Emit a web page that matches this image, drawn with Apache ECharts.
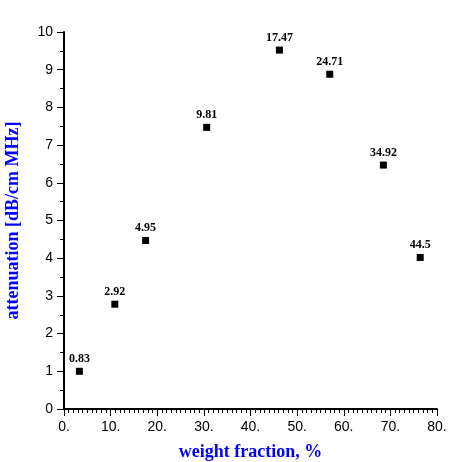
<!DOCTYPE html>
<html>
<head>
<meta charset="utf-8">
<script src="https://cdn.jsdelivr.net/npm/echarts@6/dist/echarts.min.js"></script>
<style>
    html, body { margin: 0; padding: 0; background: #fff; }
    #main { width: 467px; height: 462px; }
</style>
</head>
<body>
<div id="main"></div>
<script>
    // weight fraction (%) vs attenuation, label is the sample value
    let weightFraction = [3.3, 10.9, 17.5, 30.6, 46.2, 57.0, 68.5, 76.4];
    let attenuation = [1.0, 2.78, 4.47, 7.47, 9.52, 8.88, 6.47, 4.02];
    let pointLabels = ['0.83', '2.92', '4.95', '9.81', '17.47', '24.71', '34.92', '44.5'];

    let chart = echarts.init(document.getElementById('main'));

    let points = [];
    for (let i = 0; i < weightFraction.length; i++) {
        points.push({ value: [weightFraction[i], attenuation[i]], name: pointLabels[i] });
    }

    const option = {
        animation: false,
        grid: {
            left: 64,
            right: 30,
            top: 32,
            bottom: 53,
            containLabel: false,
            outerBoundsMode: 'none'
        },
        xAxis: {
            type: 'value',
            min: 0,
            max: 80,
            interval: 10,
            name: 'weight fraction, %',
            nameLocation: 'middle',
            nameGap: 34,
            nameTextStyle: {
                color: '#0000ff',
                fontFamily: 'Liberation Serif',
                fontWeight: 'bold',
                fontSize: 18
            },
            axisLine: { lineStyle: { color: '#000', width: 2 } },
            axisTick: { show: true, inside: false, length: 7, lineStyle: { color: '#000', width: 1 } },
            minorTick: { show: true, splitNumber: 10, length: 4, lineStyle: { color: '#000', width: 1 } },
            axisLabel: {
                color: '#000',
                fontFamily: 'Liberation Sans',
                fontSize: 14,
                margin: 11,
                formatter: function (v) { return v + '.'; }
            },
            splitLine: { show: false }
        },
        yAxis: {
            type: 'value',
            min: 0,
            max: 10,
            interval: 1,
            name: 'attenuation [dB/cm MHz]',
            nameLocation: 'middle',
            nameGap: 42,
            nameTextStyle: {
                color: '#0000ff',
                fontFamily: 'Liberation Serif',
                fontWeight: 'bold',
                fontSize: 18
            },
            axisLine: { show: true, lineStyle: { color: '#000', width: 2 } },
            axisTick: { show: true, inside: false, length: 7, lineStyle: { color: '#000', width: 1 } },
            minorTick: { show: true, splitNumber: 2, length: 4, lineStyle: { color: '#000', width: 1 } },
            axisLabel: {
                color: '#000',
                fontFamily: 'Liberation Sans',
                fontSize: 14,
                margin: 11
            },
            splitLine: { show: false }
        },
        series: [
            {
                type: 'scatter',
                symbol: 'rect',
                symbolSize: 7,
                itemStyle: { color: '#000', opacity: 1 },
                label: {
                    show: true,
                    position: 'top',
                    distance: 3,
                    formatter: '{b}',
                    color: '#000',
                    fontFamily: 'Liberation Serif',
                    fontWeight: 'bold',
                    fontSize: 12
                },
                data: points
            }
        ]
    };

    chart.setOption(option);
</script>
</body>
</html>
